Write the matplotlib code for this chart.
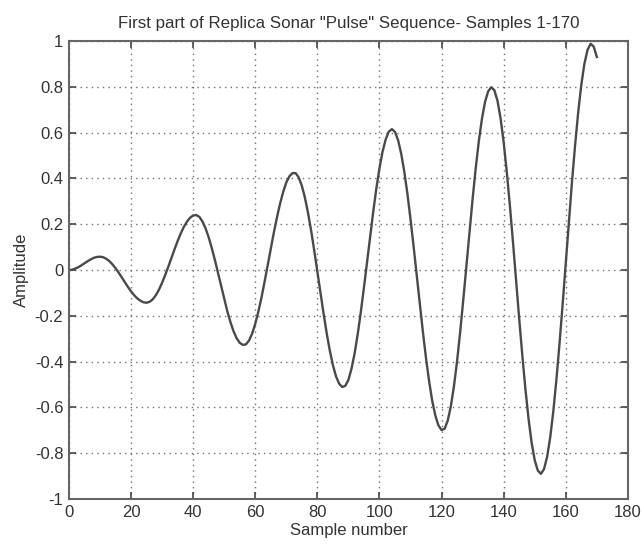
import matplotlib
matplotlib.use("Agg")
import matplotlib.pyplot as plt

plt.rcParams['font.family'] = ['Liberation Sans', 'DejaVu Sans']

# sample number and amplitude
samples = list(range(0, 171))
amplitude = [
    0.000, 0.001, 0.006, 0.012, 0.020, 0.029, 0.038, 0.046, 0.053, 0.057,
    0.058, 0.056, 0.049, 0.039, 0.025, 0.008, -0.011, -0.032, -0.053, -0.074,
    -0.093, -0.110, -0.124, -0.134, -0.141, -0.143, -0.139, -0.128, -0.110, -0.086,
    -0.056, -0.022, 0.014, 0.052, 0.090, 0.126, 0.159, 0.188, 0.211, 0.228,
    0.238, 0.240, 0.232, 0.212, 0.182, 0.143, 0.096, 0.044, -0.012, -0.070,
    -0.126, -0.180, -0.227, -0.267, -0.298, -0.318, -0.327, -0.325, -0.308, -0.278,
    -0.235, -0.182, -0.121, -0.052, 0.020, 0.092, 0.164, 0.230, 0.290, 0.341,
    0.382, 0.409, 0.423, 0.423, 0.404, 0.368, 0.316, 0.249, 0.172, 0.085,
    -0.006, -0.099, -0.190, -0.275, -0.351, -0.415, -0.464, -0.496, -0.511, -0.506,
    -0.480, -0.431, -0.364, -0.280, -0.183, -0.077, 0.035, 0.147, 0.255, 0.356,
    0.444, 0.517, 0.570, 0.604, 0.615, 0.603, 0.567, 0.508, 0.429, 0.333,
    0.222, 0.102, -0.023, -0.150, -0.272, -0.386, -0.487, -0.572, -0.636, -0.679,
    -0.699, -0.693, -0.657, -0.594, -0.506, -0.397, -0.269, -0.129, 0.019, 0.167,
    0.311, 0.445, 0.563, 0.660, 0.734, 0.780, 0.798, 0.785, 0.739, 0.662,
    0.557, 0.428, 0.281, 0.121, -0.046, -0.213, -0.373, -0.520, -0.649, -0.754,
    -0.831, -0.876, -0.890, -0.869, -0.815, -0.729, -0.615, -0.475, -0.318, -0.147,
    0.032, 0.212, 0.386, 0.545, 0.689, 0.809, 0.901, 0.961, 0.988, 0.975,
    0.930,
]

xticks = list(range(0, 181, 20))
yticks = [-1, -0.8, -0.6, -0.4, -0.2, 0, 0.2, 0.4, 0.6, 0.8, 1]
ytick_labels = ['-1', '-0.8', '-0.6', '-0.4', '-0.2', '0', '0.2', '0.4', '0.6', '0.8', '1']

fig = plt.figure(figsize=(6.44, 5.44), dpi=100)
ax = fig.add_axes([0.107, 0.0827, 0.868, 0.842])

ax.plot(samples, amplitude, color='#4a4a4a', lw=1.7)

ax.set_xlim(0, 180)
ax.set_ylim(-1, 1)
ax.set_xticks(xticks)
ax.set_yticks(yticks)
ax.set_yticklabels(ytick_labels)
ax.grid(True, linestyle=(0, (1, 3)), color='#707070', lw=1.0)

for s in ax.spines.values():
    s.set_color('#666666')
    s.set_linewidth(1.5)
ax.tick_params(direction='in', top=True, right=True, length=5, width=1.2,
               color='#444444', labelsize=12, labelcolor='#333333', pad=4)

ax.set_title('First part of Replica Sonar "Pulse" Sequence- Samples 1-170',
             fontsize=12.2, color='#333333', pad=9.5)
ax.set_xlabel('Sample number', fontsize=12, color='#333333')
ax.set_ylabel('Amplitude', fontsize=12, color='#333333')
ax.xaxis.set_label_coords(0.5, -0.053)
ax.yaxis.set_label_coords(-0.072, 0.5)

fig.savefig('out.png', dpi=100)
